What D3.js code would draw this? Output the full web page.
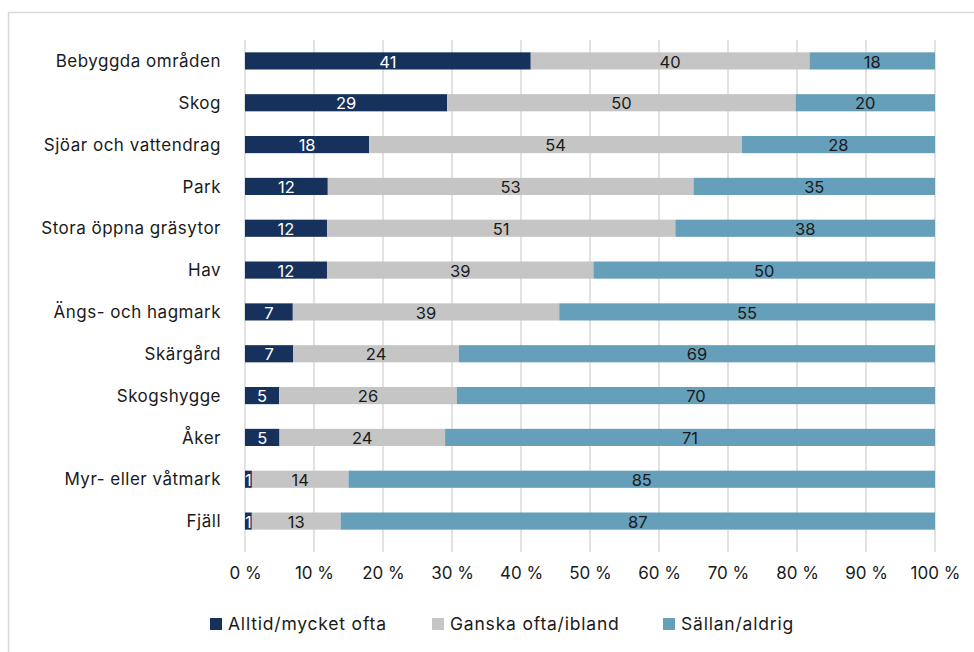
<!DOCTYPE html>
<html>
<head>
<meta charset="utf-8">
<script src="https://cdn.jsdelivr.net/npm/d3@7"></script>
<style>
  body { margin: 0; background: #fff; }
  svg text { font-family: Inter, "Noto Sans", sans-serif; }
</style>
</head>
<body>
<svg id="chart" width="974" height="652"></svg>
<script>
const categories = ["Bebyggda områden", "Skog", "Sjöar och vattendrag", "Park", "Stora öppna gräsytor",
  "Hav", "Ängs- och hagmark", "Skärgård", "Skogshygge", "Åker", "Myr- eller våtmark", "Fjäll"];
const seriesNames = ["Alltid/mycket ofta", "Ganska ofta/ibland", "Sällan/aldrig"];
const alltid = [41, 29, 18, 12, 12, 12, 7, 7, 5, 5, 1, 1];
const ganska = [40, 50, 54, 53, 51, 39, 39, 24, 26, 24, 14, 13];
const sallan = [18, 20, 28, 35, 38, 50, 55, 69, 70, 71, 85, 87];
const ticks = [0, 10, 20, 30, 40, 50, 60, 70, 80, 90, 100];

const colors = ["#16325c", "#c5c5c5", "#659fba"];
const textColors = ["#ffffff", "#1a1a1a", "#1a1a1a"];

const svg = d3.select("#chart");

// frame
svg.append("rect")
  .attr("x", 8.5).attr("y", 12.5)
  .attr("width", 990).attr("height", 660)
  .attr("fill", "none").attr("stroke", "#d9d9d9").attr("stroke-width", 1.5);

const x = d3.scaleLinear().domain([0, 1]).range([245, 935]);
const y = d3.scaleBand().domain(categories).range([40, 542]).paddingInner(0.59).paddingOuter(0.295);

// gridlines
svg.append("g")
  .selectAll("line")
  .data(ticks)
  .join("line")
  .attr("x1", d => x(d / 100)).attr("x2", d => x(d / 100))
  .attr("y1", 40).attr("y2", 552)
  .attr("stroke", "#d9d9d9").attr("stroke-width", 1.5);

// normalised stack
const rows = categories.map((c, i) => {
  const vals = [alltid[i], ganska[i], sallan[i]];
  const total = d3.sum(vals);
  let acc = 0;
  return vals.map((v, k) => {
    const seg = { cat: c, k, v, x0: acc / total, x1: (acc + v) / total };
    acc += v;
    return seg;
  });
});
const segs = rows.flat();

svg.append("g")
  .selectAll("rect")
  .data(segs)
  .join("rect")
  .attr("x", d => x(d.x0))
  .attr("y", d => y(d.cat))
  .attr("width", d => x(d.x1) - x(d.x0))
  .attr("height", y.bandwidth())
  .attr("fill", d => colors[d.k]);

svg.append("g")
  .selectAll("text")
  .data(segs)
  .join("text")
  .attr("x", d => (x(d.x0) + x(d.x1)) / 2)
  .attr("y", d => y(d.cat) + y.bandwidth() / 2)
  .attr("dy", "0.4em")
  .attr("text-anchor", "middle")
  .attr("font-size", 16.5)
  .attr("fill", d => textColors[d.k])
  .text(d => d.v);

// category labels
svg.append("g")
  .selectAll("text")
  .data(categories)
  .join("text")
  .attr("x", 221)
  .attr("y", d => y(d) + y.bandwidth() / 2)
  .attr("dy", "0.36em")
  .attr("text-anchor", "end")
  .attr("font-size", 17)
  .attr("letter-spacing", 0.5)
  .attr("fill", "#1a1a1a")
  .text(d => d);

// x axis
const xAxis = svg.append("g")
  .attr("transform", "translate(0,573)")
  .call(d3.axisBottom(x).tickValues(ticks.map(t => t / 100)).tickFormat(d => Math.round(d * 100) + " %").tickSize(0));
xAxis.select(".domain").remove();
xAxis.selectAll("text")
  .attr("y", 0).attr("dy", "0.36em")
  .attr("font-size", 17).attr("fill", "#1a1a1a")
  .style("font-family", "Inter, 'Noto Sans', sans-serif");

// legend
const legendX = [210, 432, 663];
const legend = svg.append("g")
  .selectAll("g")
  .data(seriesNames)
  .join("g")
  .attr("transform", (d, i) => `translate(${legendX[i]},624)`);
legend.append("rect")
  .attr("x", 0).attr("y", -6).attr("width", 12).attr("height", 12)
  .attr("fill", (d, i) => colors[i]);
legend.append("text")
  .attr("x", 18).attr("dy", "0.36em")
  .attr("font-size", 17.5).attr("letter-spacing", 0.8)
  .attr("fill", "#1a1a1a")
  .text(d => d);
</script>
</body>
</html>
